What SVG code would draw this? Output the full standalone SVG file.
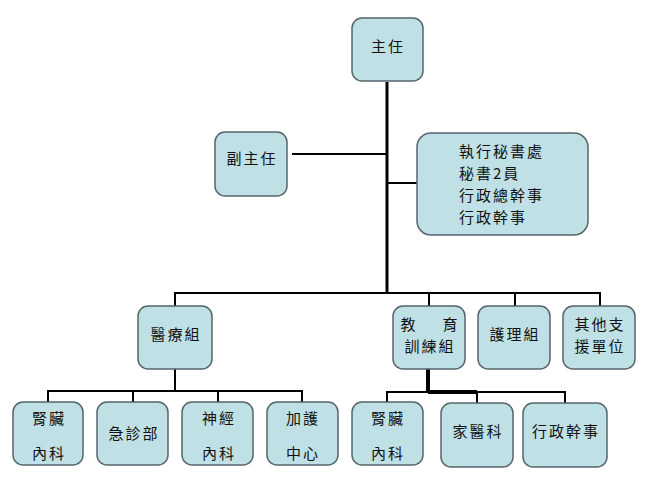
<svg xmlns="http://www.w3.org/2000/svg" width="656" height="491" viewBox="0 0 656 491">
<style>
.box{fill:#BFE0E4;stroke:#56666a;stroke-width:1.5}
.t{font-family:"Noto Sans CJK TC","Noto Sans CJK SC",sans-serif;font-size:15px;letter-spacing:2px;fill:#111;text-anchor:middle;dominant-baseline:central}
.ts{text-anchor:start}
.ln{stroke:#000;fill:none;stroke-width:2}
.lnb{stroke:#000;fill:none;stroke-width:3}
</style>
<rect width="656" height="491" fill="#fff"/>
<g id="connectors">
<line class="lnb" x1="387" y1="82" x2="387" y2="293"/>
<line class="ln" x1="292" y1="154" x2="387" y2="154"/>
<line class="ln" x1="387" y1="183" x2="417" y2="183"/>
<polyline class="ln" points="175,306 175,293 600,293 600,306"/>
<line class="ln" x1="429" y1="293" x2="429" y2="306"/>
<line class="ln" x1="515" y1="293" x2="515" y2="306"/>
<line class="ln" x1="175" y1="369" x2="175" y2="391"/>
<polyline class="ln" points="48,402 48,391 302,391 302,402"/>
<line class="ln" x1="133" y1="391" x2="133" y2="402"/>
<line class="ln" x1="218" y1="391" x2="218" y2="402"/>
<line x1="428" y1="369" x2="428" y2="392" stroke="#000" stroke-width="4"/>
<polyline class="ln" points="387,402 387,392 565,392 565,403"/>
<line x1="428" y1="392" x2="477" y2="392" stroke="#000" stroke-width="4"/>
<line class="ln" x1="477" y1="392" x2="477" y2="403"/>
</g>
<g id="n_director"><rect class="box" x="352" y="18" width="71" height="63" rx="10"/><text class="t" x="388" y="45">主任</text></g>
<g id="n_deputy"><rect class="box" x="215" y="132" width="72" height="64" rx="10"/><text class="t" x="252" y="157">副主任</text></g>
<g id="n_secretariat"><rect class="box" x="417" y="133" width="171" height="102" rx="14"/>
<text class="t ts" x="459" y="150">執行秘書處</text>
<text class="t ts" x="459" y="172">秘書2員</text>
<text class="t ts" x="459" y="194">行政總幹事</text>
<text class="t ts" x="459" y="216">行政幹事</text></g>
<g id="n_medical"><rect class="box" x="138" y="306" width="74" height="63" rx="10"/><text class="t" x="176" y="333">醫療組</text></g>
<g id="n_education"><rect class="box" x="393" y="306" width="72" height="63" rx="10"/><text class="t" x="409" y="323">教</text><text class="t" x="451" y="323">育</text><text class="t" x="430" y="345">訓練組</text></g>
<g id="n_nursing"><rect class="box" x="478" y="306" width="72" height="63" rx="10"/><text class="t" x="515" y="333">護理組</text></g>
<g id="n_support"><rect class="box" x="563" y="306" width="72" height="63" rx="10"/><text class="t" x="600" y="323">其他支</text><text class="t" x="600" y="345">援單位</text></g>
<g id="n_nephro1"><rect class="box" x="13" y="402" width="70" height="63" rx="10"/><text class="t" x="49" y="417">腎臟</text><text class="t" x="49" y="452">內科</text></g>
<g id="n_er"><rect class="box" x="97" y="402" width="71" height="63" rx="10"/><text class="t" x="134" y="432">急診部</text></g>
<g id="n_neuro"><rect class="box" x="182" y="402" width="71" height="63" rx="10"/><text class="t" x="219" y="417">神經</text><text class="t" x="219" y="452">內科</text></g>
<g id="n_icu"><rect class="box" x="267" y="402" width="71" height="63" rx="10"/><text class="t" x="303" y="417">加護</text><text class="t" x="303" y="452">中心</text></g>
<g id="n_nephro2"><rect class="box" x="352" y="402" width="71" height="63" rx="10"/><text class="t" x="388" y="417">腎臟</text><text class="t" x="388" y="452">內科</text></g>
<g id="n_family"><rect class="box" x="441" y="403" width="72" height="64" rx="10"/><text class="t" x="478" y="430">家醫科</text></g>
<g id="n_admin"><rect class="box" x="523" y="403" width="84" height="64" rx="10"/><text class="t" x="566" y="430">行政幹事</text></g>
</svg>
